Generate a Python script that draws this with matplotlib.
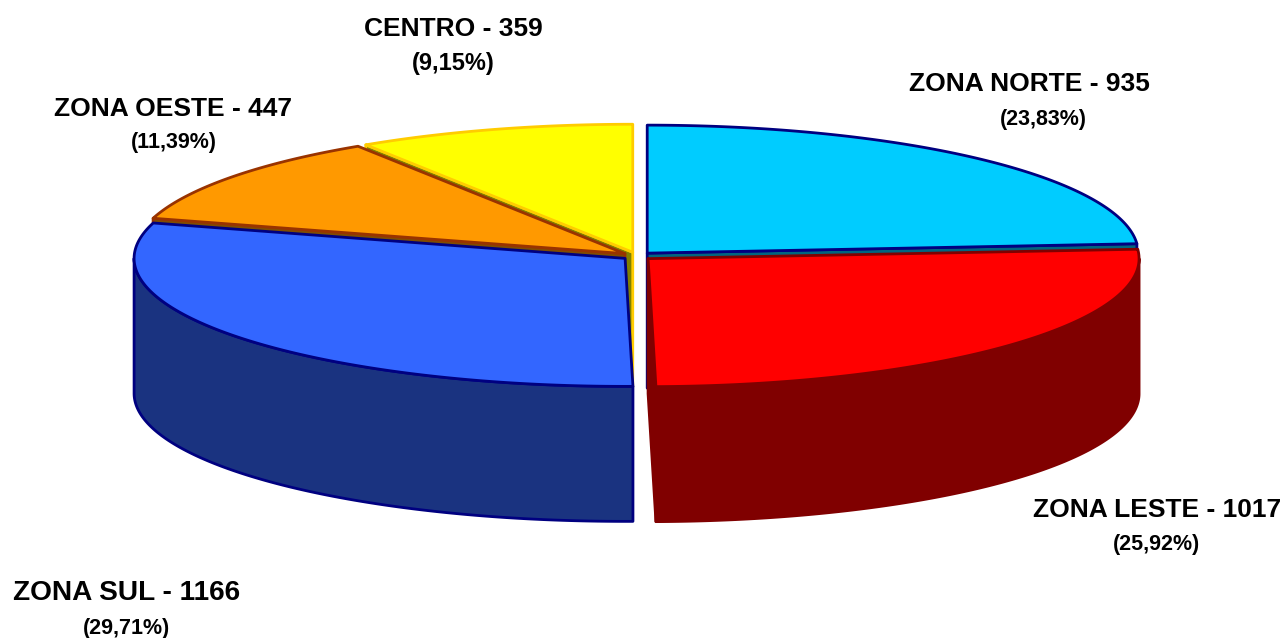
import numpy as np
import matplotlib
matplotlib.use('Agg')
import matplotlib.pyplot as plt
from matplotlib.patches import Polygon

# ---- data ----
categories = ['ZONA NORTE', 'ZONA LESTE', 'ZONA SUL', 'ZONA OESTE', 'CENTRO']
values = [935, 1017, 1166, 447, 359]

# ---- style ----
top_colors = ['#00CCFF', '#FF0000', '#3366FF', '#FF9900', '#FFFF00']
side_colors = ['#006680', '#800000', '#1A3380', '#804D00', '#808000']
edge_colors = ['#000080', '#800000', '#000080', '#993300', '#FFCC00']

# label layout (pixel positions): name (x, baseline), pct (x, baseline)
name_pos = [(1029, 91), (1157, 517), (127, 600), (173, 116), (453, 36)]
pct_pos = [(1043, 125), (1157, 550), (127, 634), (174, 148), (453, 70)]
name_sizes = [19, 19, 20.2, 19, 19]
pct_sizes = [15.5, 15.5, 15.5, 15.5, 17]

W, H = 1287, 638
fig = plt.figure(figsize=(W / 100, H / 100), dpi=100)
ax = fig.add_axes([0, 0, 1, 1])
ax.set_xlim(0, W)
ax.set_ylim(H, 0)
ax.axis('off')

cx, cy, rx, ry, depth, explode = 637, 256, 491, 128, 135, 15

total = sum(values)
fr = np.array(values) / total
ends = np.cumsum(fr) * 360.0
starts = ends - fr * 360.0

def vertex(i):
    m = np.radians((starts[i] + ends[i]) / 2)
    return cx + explode * np.sin(m), cy - explode * (ry / rx) * np.cos(m)

def rim(i, th_deg):
    vx, vy = vertex(i)
    t = np.radians(th_deg)
    return vx + rx * np.sin(t), vy - ry * np.cos(t)

def arc(i, a, b, n=200):
    ths = np.linspace(a, b, n)
    return [rim(i, t) for t in ths]

radial = []
outer = []
for i in range(len(values)):
    a, b = starts[i], ends[i]
    vx, vy = vertex(i)
    for th, nrm in ((a, a - 90), (b, b + 90)):
        if np.cos(np.radians(nrm)) < 0:
            px, py = rim(i, th)
            poly = [(vx, vy), (px, py), (px, py + depth), (vx, vy + depth)]
            near = -np.cos(np.radians(th))
            radial.append((near, i, poly))
    lo, hi = max(a, 90), min(b, 270)
    if hi > lo:
        top = arc(i, lo, hi)
        bot = [(x, y + depth) for x, y in top[::-1]]
        near = -np.cos(np.radians((lo + hi) / 2))
        outer.append((near, i, top + bot))

LW = 2.0
for near, i, poly in sorted(radial, key=lambda r: r[0]):
    ax.add_patch(Polygon(poly, closed=True, facecolor=side_colors[i],
                         edgecolor=edge_colors[i], lw=LW, joinstyle='round'))
for near, i, poly in sorted(outer, key=lambda r: r[0]):
    ax.add_patch(Polygon(poly, closed=True, facecolor=side_colors[i],
                         edgecolor=edge_colors[i], lw=LW, joinstyle='round'))
for i in range(len(values)):
    poly = [vertex(i)] + arc(i, starts[i], ends[i])
    ax.add_patch(Polygon(poly, closed=True, facecolor=top_colors[i],
                         edgecolor=edge_colors[i], lw=LW, joinstyle='round'))

font = dict(family='Liberation Sans', weight='bold', color='black')
for i, cat in enumerate(categories):
    pct = f"{fr[i] * 100:.2f}".replace('.', ',')
    ax.text(name_pos[i][0], name_pos[i][1], f"{cat} - {values[i]}",
            ha='center', va='baseline', fontsize=name_sizes[i], **font)
    ax.text(pct_pos[i][0], pct_pos[i][1], f"({pct}%)",
            ha='center', va='baseline', fontsize=pct_sizes[i], **font)

fig.savefig('out.png', dpi=100)
